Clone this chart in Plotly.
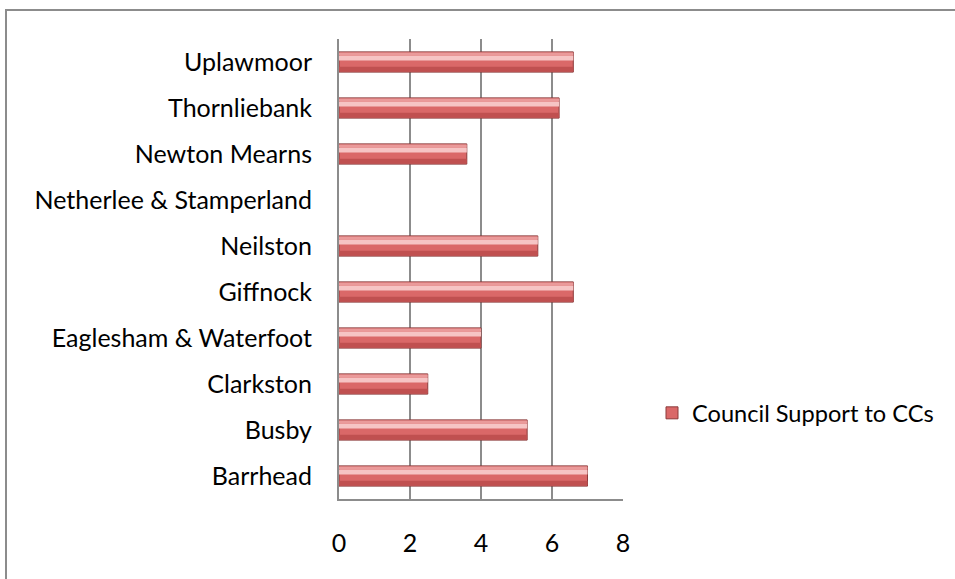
import plotly.graph_objects as go

categories = ["Barrhead", "Busby", "Clarkston", "Eaglesham & Waterfoot", "Giffnock",
              "Neilston", "Netherlee & Stamperland", "Newton Mearns", "Thornliebank", "Uplawmoor"]
values = [7.0, 5.3, 2.5, 4.0, 6.6, 5.6, 0, 3.6, 6.2, 6.6]
series_name = "Council Support to CCs"
x_ticks = [0, 2, 4, 6, 8]

W, H = 955, 579
L, R, T, B = 339, 623, 39, 499
FONT = "Lato"
FS = 25

fig = go.Figure()
bw = 0.44
edge_w = [0 if v == 0 else 1 for v in values]
# base bar
fig.add_trace(go.Bar(
    y=categories, x=values, orientation="h", name=series_name,
    width=bw, marker=dict(color="#DA6868", line=dict(color="#8B3A3A", width=edge_w)),
    showlegend=True,
))
# darker lower band
fig.add_trace(go.Bar(
    y=categories, x=values, orientation="h", name=series_name,
    width=0.1, offset=-bw / 2 + 0.015,
    marker=dict(color="#C05050", line=dict(width=0)),
    showlegend=False, hoverinfo="skip",
))
# light upper highlight
fig.add_trace(go.Bar(
    y=categories, x=values, orientation="h", name=series_name,
    width=0.11, offset=0.03,
    marker=dict(color="#F6C4C4", line=dict(width=0)),
    showlegend=False, hoverinfo="skip",
))
# top edge band
fig.add_trace(go.Bar(
    y=categories, x=values, orientation="h", name=series_name,
    width=0.06, offset=bw / 2 - 0.075,
    marker=dict(color="#EA9A9A", line=dict(width=0)),
    showlegend=False, hoverinfo="skip",
))

pw = R - L
ph = B - T
fig.update_layout(
    width=W, height=H,
    margin=dict(l=L, r=W - R, t=T, b=H - B, autoexpand=False),
    paper_bgcolor="white", plot_bgcolor="white",
    barmode="overlay",
    font=dict(family=FONT, size=FS, color="#000000"),
    showlegend=True,
    legend=dict(x=(652 - L) / pw, y=(B - 413) / ph, xanchor="left", yanchor="middle",
                font=dict(family=FONT, size=23.6, color="#000000"),
                itemwidth=30, bgcolor="rgba(0,0,0,0)"),
    xaxis=dict(range=[0, 8], tickvals=x_ticks, showgrid=True, gridcolor="#8C8C8C", gridwidth=2,
               zeroline=False, showline=True, linecolor="#8C8C8C", linewidth=2,
               ticks="", ticklabelstandoff=21, fixedrange=True),
    yaxis=dict(showgrid=False, zeroline=False, showline=True, linecolor="#8C8C8C", linewidth=2,
               ticks="", ticklabelstandoff=20, categoryorder="array", categoryarray=categories,
               fixedrange=True),
    shapes=[dict(type="rect", xref="paper", yref="paper",
                 x0=(6 - L) / pw, x1=(W + 20 - L) / pw,
                 y0=(B - (H + 20)) / ph, y1=(B - 10) / ph,
                 line=dict(color="#8C8C8C", width=2), fillcolor="rgba(0,0,0,0)", layer="below")],
)

fig.write_html("out.html")
